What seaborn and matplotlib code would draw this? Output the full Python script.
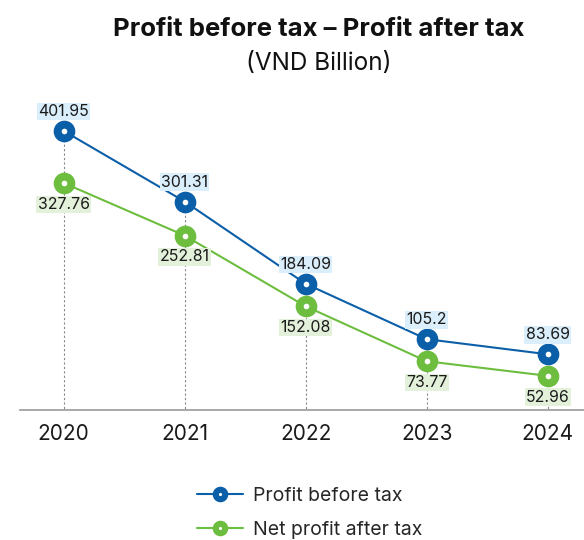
import matplotlib
matplotlib.use("Agg")
import matplotlib.pyplot as plt
from matplotlib.lines import Line2D
import seaborn as sns
import pandas as pd

years = ["2020", "2021", "2022", "2023", "2024"]
profit_before_tax = [401.95, 301.31, 184.09, 105.2, 83.69]
net_profit_after_tax = [327.76, 252.81, 152.08, 73.77, 52.96]
series_names = ["Profit before tax", "Net profit after tax"]

BLUE = "#0b5ea8"
GREEN = "#6dbd3f"
BLUE_BG = "#dbeefb"
GREEN_BG = "#e3f0da"

sns.set_theme(style="white")
plt.rcParams["font.family"] = ["Inter", "DejaVu Sans"]

df = pd.DataFrame({
    "year": years * 2,
    "value": profit_before_tax + net_profit_after_tax,
    "series": [series_names[0]] * len(years) + [series_names[1]] * len(years),
})

fig = plt.figure(figsize=(5.84, 5.40), dpi=100)
ax = fig.add_axes([20 / 584, 130 / 540, 564 / 584, 310 / 540])

sns.lineplot(
    data=df, x="year", y="value", hue="series",
    palette=[BLUE, GREEN], marker="o", markersize=9.9,
    markerfacecolor="white", markeredgewidth=5.7, linewidth=1.5,
    legend=False, ax=ax, zorder=3,
)
for line, c in zip(ax.lines, [BLUE, GREEN]):
    line.set_markeredgecolor(c)

xs = range(len(years))
ax.vlines(list(xs), 0, profit_before_tax, colors="#888888",
          linestyles=(0, (2, 2)), linewidth=0.8, zorder=1)

for i, (b, g) in enumerate(zip(profit_before_tax, net_profit_after_tax)):
    ax.annotate(f"{b:g}", (i, b), xytext=(0, 8.5), textcoords="offset points",
                ha="center", va="bottom", fontsize=11.4, color="#1a1a1a",
                bbox=dict(boxstyle="square,pad=0.08", fc=BLUE_BG, ec="none"), zorder=4)
    ax.annotate(f"{g:g}", (i, g), xytext=(0, -10), textcoords="offset points",
                ha="center", va="top", fontsize=11.4, color="#1a1a1a",
                bbox=dict(boxstyle="square,pad=0.08", fc=GREEN_BG, ec="none"), zorder=4)

ax.set_xlim(-0.36, 4.3)
ax.set_ylim(4.3, 445.9)
ax.set_yticks([])
ax.set_xlabel("")
ax.set_ylabel("")
ax.tick_params(axis="x", length=0, labelsize=15, pad=10, colors="#1a1a1a")
for s in ["top", "right", "left"]:
    ax.spines[s].set_visible(False)
ax.spines["bottom"].set_color("#999999")
ax.spines["bottom"].set_linewidth(1.2)

fig.text(0.546, 0.945, "Profit before tax – Profit after tax", ha="center",
         va="center", fontsize=18.5, fontweight="bold", color="#111111")
fig.text(0.546, 0.883, "(VND Billion)", ha="center", va="center",
         fontsize=17.5, color="#111111")

handles = [
    Line2D([], [], color=c, marker="o", markersize=6.8, markerfacecolor="white",
           markeredgecolor=c, markeredgewidth=4.4, linewidth=1.5)
    for c in [BLUE, GREEN]
]
fig.legend(handles, series_names, loc="center", bbox_to_anchor=(0.53, 0.05),
           ncol=1, frameon=False, fontsize=14, handlelength=2.4,
           labelspacing=0.8, handletextpad=0.5)

fig.savefig("out.png", dpi=100)
